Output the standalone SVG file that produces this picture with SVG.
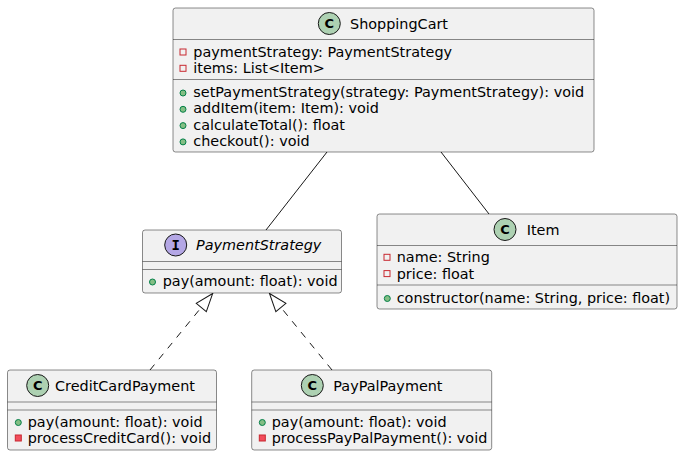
<svg xmlns="http://www.w3.org/2000/svg" width="683" height="456" viewBox="0 0 683 456">
<style>
.box{fill:#F1F1F1;stroke:#181818;stroke-width:0.5}
.div{stroke:#181818;stroke-width:0.5}
.t{font-family:"DejaVu Sans","Liberation Sans",sans-serif;font-size:14.4px;fill:#000000}
.ti{font-family:"DejaVu Sans","Liberation Sans",sans-serif;font-size:14.4px;font-style:italic;fill:#000000}
.cc{fill:#ADD1B2;stroke:#181818;stroke-width:1}
.ic{fill:#B4A7E5;stroke:#181818;stroke-width:1}
.cl{font-family:"DejaVu Sans","Liberation Sans",sans-serif;font-size:13px;font-weight:bold;fill:#000;text-anchor:middle}
.il{font-family:"DejaVu Sans Mono","Liberation Mono",monospace;font-size:14px;font-weight:bold;fill:#000;text-anchor:middle}
.pf{fill:none;stroke:#C82930;stroke-width:1}
.pm{fill:#F24D5C;stroke:#C82930;stroke-width:1}
.um{fill:#84BE84;stroke:#038048;stroke-width:1}
.edge{stroke:#181818;stroke-width:1;fill:none}
.dash{stroke-dasharray:7,7}
</style>
<defs>
<marker id="ext" viewBox="0 0 20 14" refX="18" refY="7" markerWidth="20" markerHeight="14" markerUnits="userSpaceOnUse" orient="auto" overflow="visible">
<path d="M18,7 L0,0.5 L0,13.5 Z" fill="#FFFFFF" stroke="#181818" stroke-width="1" stroke-dasharray="none"/>
</marker>
</defs>

<g id="connectors">
<line class="edge" x1="327" y1="152" x2="266" y2="230"/>
<line class="edge" x1="441" y1="152" x2="489" y2="214"/>
<line class="edge dash" x1="150" y1="370" x2="212.7" y2="293.5" marker-end="url(#ext)"/>
<line class="edge dash" x1="332" y1="370" x2="269.5" y2="293.5" marker-end="url(#ext)"/>
</g>

<g id="ShoppingCart">
<rect class="box" x="173" y="8" width="421" height="144" rx="2.5"/>
<circle class="cc" cx="329.3" cy="23.5" r="11"/>
<text class="cl" x="329.3" y="28.2">C</text>
<text class="t" x="350" y="28.5">ShoppingCart</text>
<line class="div" x1="173" y1="39.5" x2="594" y2="39.5"/>
<rect class="pf" x="180" y="49" width="6" height="6"/>
<text class="t" x="193.3" y="57">paymentStrategy: PaymentStrategy</text>
<rect class="pf" x="180" y="65.3" width="6" height="6"/>
<text class="t" x="193.3" y="73.3">items: List&lt;Item&gt;</text>
<line class="div" x1="173" y1="79.5" x2="594" y2="79.5"/>
<circle class="um" cx="183" cy="93" r="3"/>
<text class="t" x="193.3" y="97">setPaymentStrategy(strategy: PaymentStrategy): void</text>
<circle class="um" cx="183" cy="109.3" r="3"/>
<text class="t" x="193.3" y="113.3">addItem(item: Item): void</text>
<circle class="um" cx="183" cy="125.6" r="3"/>
<text class="t" x="193.3" y="129.6">calculateTotal(): float</text>
<circle class="um" cx="183" cy="141.9" r="3"/>
<text class="t" x="193.3" y="145.9">checkout(): void</text>
</g>

<g id="PaymentStrategy">
<rect class="box" x="142.5" y="230" width="199" height="63" rx="2.5"/>
<circle class="ic" cx="175.7" cy="245" r="11"/>
<text class="il" x="175.7" y="250">I</text>
<text class="ti" x="196" y="250">PaymentStrategy</text>
<line class="div" x1="142.5" y1="261.5" x2="341.5" y2="261.5"/>
<line class="div" x1="142.5" y1="269.5" x2="341.5" y2="269.5"/>
<circle class="um" cx="152.5" cy="282" r="3"/>
<text class="t" x="162.7" y="286">pay(amount: float): void</text>
</g>

<g id="Item">
<rect class="box" x="377" y="214" width="300" height="95" rx="2.5"/>
<circle class="cc" cx="505" cy="229.5" r="11"/>
<text class="cl" x="505" y="234.2">C</text>
<text class="t" x="526.7" y="234.5">Item</text>
<line class="div" x1="377" y1="245.5" x2="677" y2="245.5"/>
<rect class="pf" x="384" y="254.3" width="6" height="6"/>
<text class="t" x="396.7" y="262.3">name: String</text>
<rect class="pf" x="384" y="270.6" width="6" height="6"/>
<text class="t" x="396.7" y="278.6">price: float</text>
<line class="div" x1="377" y1="285" x2="677" y2="285"/>
<circle class="um" cx="387.3" cy="298.5" r="3"/>
<text class="t" x="396.7" y="302.5">constructor(name: String, price: float)</text>
</g>

<g id="CreditCardPayment">
<rect class="box" x="7.5" y="370" width="209" height="80" rx="2.5"/>
<circle class="cc" cx="37.7" cy="385.5" r="11"/>
<text class="cl" x="37.7" y="390.2">C</text>
<text class="t" x="55" y="391">CreditCardPayment</text>
<line class="div" x1="7.5" y1="402" x2="216.5" y2="402"/>
<line class="div" x1="7.5" y1="410" x2="216.5" y2="410"/>
<circle class="um" cx="18.3" cy="422.5" r="3"/>
<text class="t" x="27.7" y="426.5">pay(amount: float): void</text>
<rect class="pm" x="15.3" y="435" width="6" height="6"/>
<text class="t" x="27.7" y="442.8">processCreditCard(): void</text>
</g>

<g id="PayPalPayment">
<rect class="box" x="251.7" y="370" width="240" height="80" rx="2.5"/>
<circle class="cc" cx="312.3" cy="385.5" r="11"/>
<text class="cl" x="312.3" y="390.2">C</text>
<text class="t" x="333.3" y="391">PayPalPayment</text>
<line class="div" x1="251.7" y1="402" x2="491.7" y2="402"/>
<line class="div" x1="251.7" y1="410" x2="491.7" y2="410"/>
<circle class="um" cx="262.3" cy="422.5" r="3"/>
<text class="t" x="271.7" y="426.5">pay(amount: float): void</text>
<rect class="pm" x="259.3" y="435" width="6" height="6"/>
<text class="t" x="271.7" y="442.8">processPayPalPayment(): void</text>
</g>
</svg>
